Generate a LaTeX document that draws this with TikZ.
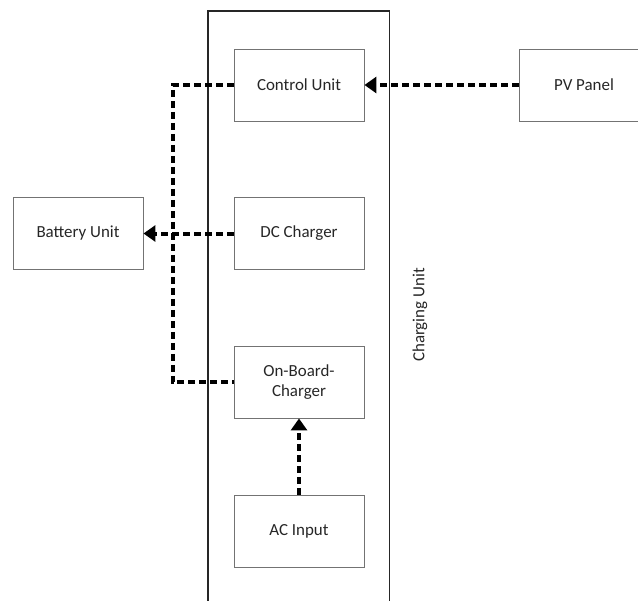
\documentclass[tikz,border=0pt]{standalone}
\usepackage{fontspec}
\setmainfont{Carlito}
\usetikzlibrary{arrows.meta}
\begin{document}
\begin{tikzpicture}[x=1bp,y=-1bp,
  blk/.style={draw=black!55,line width=0.9bp,minimum width=130bp,minimum height=72bp,align=center,
    font=\fontsize{17}{20}\selectfont,text=black!85,inner sep=0pt},
  flow/.style={line width=4bp,dash pattern=on 7bp off 4bp,draw=black},
  tip/.style={-{Triangle[length=12bp,width=16bp]}}]
\useasboundingbox (0,0) rectangle (638,601);
\draw[line width=1.3bp,black!85] (208,605) -- (208,11) -- (389.5,11) -- (389.5,605);
\node[blk] (cu) at (299,85) {Control Unit};
\node[blk] (pv) at (584,85) {PV Panel};
\node[blk] (bat) at (78,233.5) {Battery Unit};
\node[blk] (dc) at (299,233.5) {DC Charger};
\node[blk] (obc) at (299,382) {On-Board-\\Charger};
\node[blk] (ac) at (299,531) {AC Input};
\node[rotate=90,font=\fontsize{17}{20}\selectfont,text=black!85] (cul) at (420,315) {Charging Unit};
\coordinate (tl) at (172.5,85);
\coordinate (bl) at (172.5,382);
\draw[flow] (cu.west) -- (tl) -- (bl) -- (obc.west);
\draw[flow,tip] (pv.west) -- (cu.east);
\draw[flow,tip] (dc.west) -- (bat.east);
\draw[flow,tip] (ac.north) -- (obc.south);
\end{tikzpicture}
\end{document}
